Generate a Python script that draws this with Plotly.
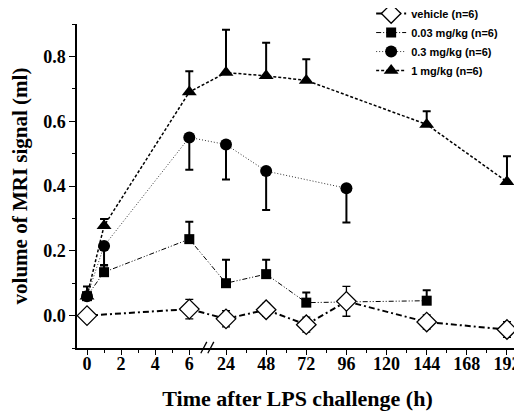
import plotly.graph_objects as go

# ---- data ----
hours_vehicle = [0, 6, 24, 48, 72, 96, 144, 192]
vehicle = [0.0, 0.02, -0.01, 0.018, -0.028, 0.044, -0.02, -0.043]
vehicle_err = [0.0, 0.03, 0.025, 0.02, 0.023, 0.046, 0.022, 0.024]

hours_003 = [0, 1, 6, 24, 48, 72, 144]
dose_003 = [0.06, 0.134, 0.236, 0.10, 0.128, 0.04, 0.046]
dose_003_err = [0.03, 0.022, 0.054, 0.072, 0.044, 0.031, 0.032]

hours_03 = [0, 1, 6, 24, 48, 96]
dose_03 = [0.06, 0.215, 0.55, 0.528, 0.446, 0.393]
dose_03_err = [0.0, 0.06, 0.10, 0.108, 0.12, 0.106]

hours_1 = [0, 1, 6, 24, 48, 72, 144, 192]
dose_1 = [0.06, 0.277, 0.69, 0.75, 0.74, 0.726, 0.59, 0.413]
dose_1_err = [0.0, 0.021, 0.064, 0.132, 0.102, 0.065, 0.041, 0.079]

tick_hours = [0, 2, 4, 6, 24, 48, 72, 96, 120, 144, 168, 192]
minor_hours = [1, 3, 5, 36, 60, 84, 108, 132, 156, 180]
y_ticks = [0.0, 0.2, 0.4, 0.6, 0.8]
y_minor = [-0.1, 0.1, 0.3, 0.5, 0.7, 0.9]


# broken time axis: 0-6 h segment and 24-192 h segment
def pos(h):
    return h * 17.05 if h <= 6 else 139.0 + (h - 24) * 40.14 / 24


def P(hs):
    return [pos(h) for h in hs]


zeros = lambda n: [0.0] * n

fig = go.Figure()

fig.add_trace(go.Scatter(
    x=P(hours_1), y=dose_1, name="1 mg/kg (n=6)", legendrank=4,
    mode="lines+markers",
    line=dict(color="black", width=1.5, dash="3px,2px"),
    marker=dict(symbol="triangle-up", size=13, color="black"),
    error_y=dict(type="data", symmetric=False, array=dose_1_err,
                 arrayminus=zeros(len(dose_1)), color="black", thickness=2, width=4),
))
fig.add_trace(go.Scatter(
    x=P(hours_03), y=dose_03, name="0.3 mg/kg (n=6)", legendrank=3,
    mode="lines+markers",
    line=dict(color="#333333", width=1, dash="1px,2px"),
    marker=dict(symbol="circle", size=12, color="black"),
    error_y=dict(type="data", symmetric=False, array=zeros(len(dose_03)),
                 arrayminus=dose_03_err, color="black", thickness=2, width=4),
))
fig.add_trace(go.Scatter(
    x=P(hours_003), y=dose_003, name="0.03 mg/kg (n=6)", legendrank=2,
    mode="lines+markers",
    line=dict(color="black", width=1, dash="5px,2px,1px,2px,1px,2px"),
    marker=dict(symbol="square", size=10, color="black"),
    error_y=dict(type="data", symmetric=False, array=dose_003_err,
                 arrayminus=zeros(len(dose_003)), color="black", thickness=2, width=4),
))
fig.add_trace(go.Scatter(
    x=P(hours_vehicle), y=vehicle, name="vehicle (n=6)", legendrank=1,
    mode="lines+markers",
    line=dict(color="black", width=2, dash="6px,3px,2px,3px"),
    marker=dict(symbol="diamond", size=15, color="white",
                line=dict(color="black", width=1.3)),
    error_y=dict(type="data", array=vehicle_err, color="black", thickness=1.3, width=4),
))

# axis-break marks
bx = pos(6) + 18
for dx in (-3.5, 3.5):
    fig.add_shape(type="line", xref="x", yref="paper",
                  x0=bx + dx - 3, x1=bx + dx + 3, y0=-0.016, y1=0.019,
                  line=dict(color="black", width=1.3))

serif = "Liberation Serif, Times New Roman, serif"

fig.update_layout(
    width=514, height=408,
    margin=dict(l=69, r=4, t=16, b=68, autoexpand=False),
    paper_bgcolor="white", plot_bgcolor="white",
    showlegend=True,
    legend=dict(
        x=0.667, y=1.077, xanchor="left", yanchor="top",
        bgcolor="rgba(0,0,0,0)", borderwidth=0,
        font=dict(family="Liberation Sans, Arial, sans-serif", size=11,
                  color="black", weight="bold"),
        tracegroupgap=0, itemwidth=30,
    ),
    xaxis=dict(
        range=[-10, 431], automargin=False,
        tickmode="array", tickvals=P(tick_hours),
        ticktext=[str(h) for h in tick_hours],
        ticks="outside", ticklen=5, tickwidth=1.2, tickcolor="black",
        ticklabelstandoff=-6,
        showline=True, linecolor="black", linewidth=1.5,
        showgrid=False, zeroline=False,
        tickfont=dict(family=serif, size=18, color="black", weight="bold"),
        minor=dict(tickmode="array", tickvals=P(minor_hours),
                   ticks="outside", ticklen=3, tickwidth=1.2, tickcolor="black",
                   showgrid=False),
        title=dict(text="Time after LPS challenge (h)", standoff=17,
                   font=dict(family=serif, size=22, color="black", weight="bold")),
    ),
    yaxis=dict(
        range=[-0.1, 0.9], automargin=False,
        tickmode="array", tickvals=y_ticks,
        ticktext=[f"{v:.1f}" for v in y_ticks],
        ticks="outside", ticklen=6, tickwidth=1.2, tickcolor="black",
        showline=True, linecolor="black", linewidth=1.5,
        showgrid=False, zeroline=False,
        tickfont=dict(family=serif, size=18, color="black", weight="bold"),
        minor=dict(tickmode="array", tickvals=y_minor,
                   ticks="outside", ticklen=3, tickwidth=1.2, tickcolor="black",
                   showgrid=False),
        title=dict(text="volume of MRI signal (ml)", standoff=11,
                   font=dict(family=serif, size=21, color="black", weight="bold")),
    ),
)

fig.write_html("out.html")
